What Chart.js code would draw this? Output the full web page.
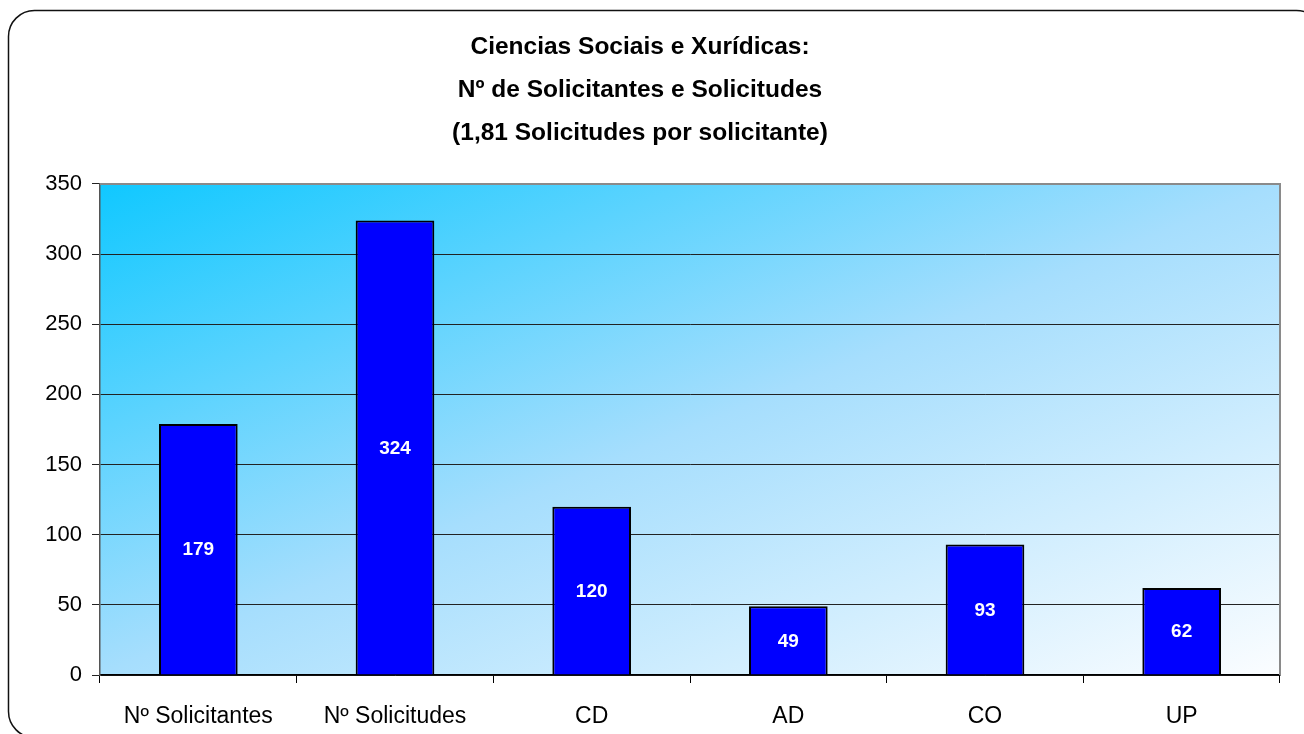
<!DOCTYPE html>
<html>
<head>
<meta charset="utf-8">
<script src="https://cdn.jsdelivr.net/npm/chart.js@4.4.1/dist/chart.umd.min.js"></script>
<style>
  html, body { margin: 0; padding: 0; background: #fff; }
  #wrap { width: 1304px; height: 734px; position: relative; }
</style>
</head>
<body>
<div id="wrap"><canvas id="chart"></canvas></div>
<script>
const categories = ["Nº Solicitantes", "Nº Solicitudes", "CD", "AD", "CO", "UP"];
const values = [179, 324, 120, 49, 93, 62];
const titleLines = [
  "Ciencias Sociais e Xurídicas:",
  "Nº de Solicitantes e Solicitudes",
  "(1,81 Solicitudes por solicitante)"
];
const yMin = 0;
const yMax = 350;
const yStep = 50;

const FONT = "'Liberation Sans', Arial, sans-serif";

// rounded frame + diagonal gradient plot background
const backdrop = {
  id: "backdrop",
  beforeDraw(chart) {
    const ctx = chart.ctx;
    const a = chart.chartArea;
    ctx.save();
    ctx.fillStyle = "#fff";
    ctx.fillRect(0, 0, chart.width, chart.height);
    ctx.lineWidth = 1.5;
    ctx.strokeStyle = "#111";
    ctx.beginPath();
    ctx.roundRect(8.5, 10.5, 1314, 727, 26);
    ctx.stroke();

    const w = a.right - a.left, h = a.bottom - a.top;
    const k = 2 * w * h / (w * w + h * h);
    const g = ctx.createLinearGradient(a.left, a.top, a.left + h * k, a.top + w * k);
    g.addColorStop(0, "#10c8ff");
    g.addColorStop(0.5, "#a6defd");
    g.addColorStop(1, "#fbfdff");
    ctx.fillStyle = g;
    ctx.fillRect(a.left, a.top, w, h);
    ctx.restore();
  },
  afterDatasetsDraw(chart) {
    const ctx = chart.ctx;
    const a = chart.chartArea;
    ctx.save();
    // top and right plot border
    ctx.strokeStyle = "#8a8a8a";
    ctx.lineWidth = 2;
    ctx.beginPath();
    ctx.moveTo(a.left, a.top);
    ctx.lineTo(a.right, a.top);
    ctx.lineTo(a.right, a.bottom);
    ctx.stroke();
    // value labels
    ctx.fillStyle = "#fff";
    ctx.font = "bold 19px " + FONT;
    ctx.textAlign = "center";
    ctx.textBaseline = "middle";
    chart.getDatasetMeta(0).data.forEach((bar, i) => {
      ctx.fillText(String(values[i]), bar.x, (bar.y + bar.base) / 2 + 1);
    });
    ctx.restore();
  }
};

new Chart(document.getElementById("chart"), {
  type: "bar",
  data: {
    labels: categories,
    datasets: [{
      data: values,
      backgroundColor: "#0000ff",
      borderColor: "#000",
      borderWidth: 2,
      barPercentage: 0.4,
      categoryPercentage: 1.0
    }]
  },
  options: {
    responsive: true,
    maintainAspectRatio: false,
    animation: false,
    layout: { padding: { left: 0, right: 24, top: 0, bottom: 0 } },
    plugins: {
      legend: { display: false },
      tooltip: { enabled: false },
      title: {
        display: true,
        text: titleLines,
        color: "#000",
        font: { family: FONT, size: 24.5, weight: "bold", lineHeight: 1.755 },
        padding: { top: 26, bottom: 29 }
      }
    },
    scales: {
      x: {
        offset: true,
        afterFit(s) { s.height = 59; },
        grid: {
          offset: true,
          drawOnChartArea: false,
          drawTicks: true,
          tickLength: 8,
          color: "#000"
        },
        border: { color: "#000", width: 1.5 },
        ticks: {
          color: "#000",
          padding: 20,
          font: { family: FONT, size: 23 }
        }
      },
      y: {
        min: yMin,
        max: yMax,
        afterFit(s) { s.width = 100; },
        grid: {
          color: (c) => c.tick && c.tick.value === yMax ? "rgba(0,0,0,0)" : "#222",
          tickColor: "#222",
          tickLength: 8
        },
        border: { color: "#555", width: 1.5 },
        ticks: {
          stepSize: yStep,
          color: "#000",
          padding: 10,
          font: { family: FONT, size: 22 }
        }
      }
    }
  },
  plugins: [backdrop]
});
</script>
</body>
</html>
